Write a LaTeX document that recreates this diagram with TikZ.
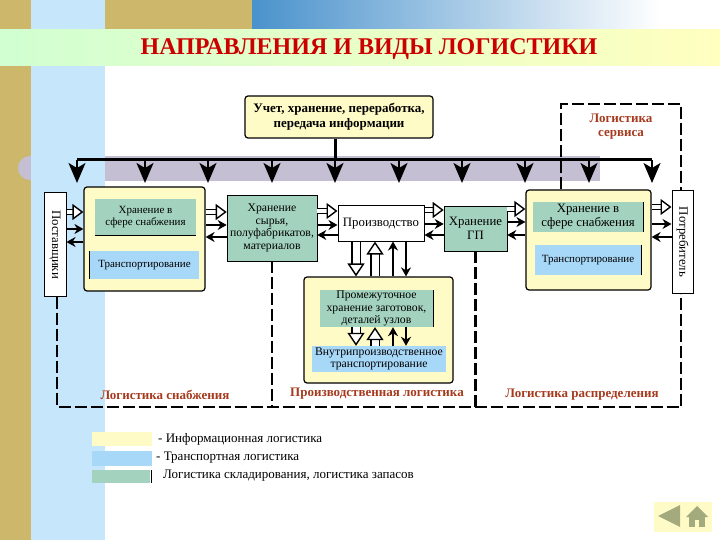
\documentclass[tikz,border=0pt]{standalone}
\usepackage{fontspec}
\setmainfont{Liberation Serif}
\usetikzlibrary{arrows.meta}

\definecolor{tan}{HTML}{CDB76B}
\definecolor{sky}{HTML}{C6E6FB}
\definecolor{lilac}{HTML}{C4BFD2}
\definecolor{pale}{HTML}{FFFBC6}
\definecolor{stock}{HTML}{A3D3BE}
\definecolor{trans}{HTML}{A8D8F8}
\definecolor{brick}{HTML}{A63A1E}
\definecolor{navicon}{HTML}{A3AB7E}
\definecolor{sea}{HTML}{4A92CC}

\begin{document}
\begin{tikzpicture}[
        x=1pt, y=-1pt,
        txt/.style={font=\fontsize{11}{12}\selectfont, align=center, inner sep=0pt},
        midtxt/.style={font=\fontsize{11.7}{12.4}\selectfont},
        bigtxt/.style={font=\fontsize{12.8}{14}\selectfont},
        infobox/.style={txt, draw, line width=1.2pt, rounded corners=3pt, fill=pale},
        stockbox/.style={txt, fill=stock},
        transbox/.style={txt, fill=trans},
        whitebox/.style={txt, bigtxt, draw, line width=1pt, fill=white},
        area/.style={font=\fontsize{13}{14}\selectfont\bfseries, text=brick, align=center, inner sep=0pt},
        legend/.style={font=\fontsize{13}{15}\selectfont, anchor=west, inner sep=0pt},
        dashline/.style={line width=2.8pt, dash pattern=on 12pt off 4pt},
        busarrow/.style={-{Stealth[length=20pt, width=17pt, inset=5pt]}, line width=2pt},
        hollow/.style={double, double distance=4pt, line width=1.4pt, -{Triangle[open, fill=white, length=11pt, width=16pt]}},
        bighollow/.style={double, double distance=7pt, line width=1.4pt, -{Triangle[open, fill=white, length=13pt, width=17pt]}},
        arrow/.style={-{Stealth[length=9pt, width=10pt]}, line width=1.4pt}
    ]
        \useasboundingbox (0,0) rectangle (720,540);

        % background
        \fill[tan] (0,0) rectangle (31,540);
        \fill[lilac] (30,168) circle (12);
        \fill[sky] (31,0) rectangle (105,540);
        \fill[tan] (105,0) rectangle (252,30);
        \shade[left color=sea, right color=white] (252,0) rectangle (660,29);
        \shade[left color=green!18, right color=yellow!25] (0,30) rectangle (720,66);
        \fill[lilac] (105,156) rectangle (600,181);

        \node[font=\fontsize{24}{28}\selectfont\bfseries, text=red!80!black, inner sep=0pt] (title) at (369,49) {НАПРАВЛЕНИЯ И ВИДЫ ЛОГИСТИКИ};

        % dashed borders
        \coordinate (dl) at (57,407);
        \coordinate (dr) at (681,407);
        \coordinate (tl) at (561,104);
        \coordinate (tr) at (681,104);

        % nodes
        \node[infobox, font=\fontsize{13}{15}\selectfont\bfseries, minimum width=188pt, minimum height=42pt] (info) at (339,117) {Учет, хранение, переработка,\\передача информации};
        \node[fill=black, minimum width=575pt, minimum height=3pt, inner sep=0pt] (bus) at (364.5,160) {};

        \node[whitebox, minimum width=22pt, minimum height=103pt] (suppl) at (55,244.5) {\rotatebox{-90}{Поставщики}};
        \node[whitebox, minimum width=21pt, minimum height=102pt] (consum) at (682.5,242) {\rotatebox{-90}{Потребитель}};

        \node[infobox, minimum width=121pt, minimum height=104pt] (supply) at (144.5,239) {};
        \node[stockbox, minimum width=101pt, minimum height=36pt] (supplystore) at (145.5,217) {Хранение в\\сфере снабжения};
        \node[transbox, minimum width=109pt, minimum height=28pt] (supplytrans) at (144.5,265) {Транспортирование};

        \node[stockbox, midtxt, draw, line width=.6pt, minimum width=90pt, minimum height=66pt] (raw) at (272,228) {Хранение\\сырья,\\полуфабрикатов,\\материалов};
        \node[whitebox, minimum width=86pt, minimum height=35pt] (prod) at (381,223.5) {Производство};
        \node[stockbox, bigtxt, draw, line width=.6pt, minimum width=63pt, minimum height=45pt] (goods) at (475.5,228.5) {Хранение\\ГП};

        \node[infobox, minimum width=125pt, minimum height=100pt] (retail) at (588.5,240) {};
        \node[stockbox, bigtxt, minimum width=110pt, minimum height=30pt] (retailstore) at (588,217) {Хранение в\\сфере снабжения};
        \node[transbox, minimum width=106pt, minimum height=30pt] (retailtrans) at (588,260) {Транспортирование};

        \node[infobox, minimum width=149pt, minimum height=106pt] (shop) at (378.5,330) {};
        \node[stockbox, midtxt, minimum width=113pt, minimum height=37pt] (shopstore) at (376.5,308.5) {Промежуточное\\хранение заготовок,\\деталей узлов};
        \node[transbox, midtxt, minimum width=134pt, minimum height=26pt] (shoptrans) at (379,359) {Внутрипроизводственное\\транспортирование};

        \node[area] (service) at (621,127) {Логистика\\сервиса};
        \node[area] (areasupply) at (165,395) {Логистика снабжения};
        \node[area] (areaprod) at (377,394) {Производственная логистика};
        \node[area] (areadist) at (582,395) {Логистика распределения};

        % small dark edges of the inner boxes
        \draw[line width=.8pt] (supplystore.south west) -- (supplystore.south east);
        \draw[line width=.8pt] (supplytrans.north west) -- (supplytrans.south west);
        \draw[line width=.8pt] (retailstore.north east) -- (retailstore.south east);
        \draw[line width=.8pt] (retailtrans.north east) -- (retailtrans.south east);
        \draw[line width=.8pt] (shopstore.north east) -- (shopstore.south east);

        % dashed lines
        \draw[dashline] (dl |- suppl.south) -- (dl) -- (dr) -- (dr |- consum.south);
        \draw[dashline] (tl |- retail.north) -- (tl) -- (tr) -- (tr |- consum.north);
        \draw[dashline] (raw.south) -- (raw.south |- dl);
        \draw[dashline] (goods.south) -- (goods.south |- dl);

        % information bus
        \draw[line width=3pt] (info.south -| bus.north) ++(-29.5,0) -- ++(0,20);
        \foreach \x in {77,145,208,272,335,399,462,525,589,652} {
            \coordinate (tip\x) at (\x,183);
            \draw[busarrow] (bus.center -| tip\x) -- (tip\x);
        }

        % flows between the boxes
        \foreach \a/\b/\yh/\ys/\yb in {suppl/supply/212/229/242, supply/raw/212/225/237, raw/prod/211/225/235, prod/goods/210/224/235, goods/retail/209/222/235, retail/consum/207/224/237} {
            \draw[hollow] (\a.east |- 0,\yh) -- (\b.west |- 0,\yh);
            \draw[arrow] (\a.east |- 0,\ys) -- (\b.west |- 0,\ys);
            \draw[arrow] (\b.west |- 0,\yb) -- (\a.east |- 0,\yb);
        }

        % flows of the production block
        \foreach \a/\b in {prod/shop, shopstore/shoptrans} {
            \draw[bighollow] (\a.south -| 356,0) -- (\b.north -| 356,0);
            \draw[bighollow] (\b.north -| 375,0) -- (\a.south -| 375,0);
            \draw[arrow] (\b.north -| 393,0) -- (\a.south -| 393,0);
            \draw[arrow] (\a.south -| 406,0) -- (\b.north -| 406,0);
        }

        % legend
        \fill[pale] (92,432) rectangle (152,446);
        \fill[trans] (92,451) rectangle (152,466);
        \fill[stock] (92,470) rectangle (150,483);
        \draw[line width=.8pt] (151,470) -- (151,483);
        \node[legend] (leginfo) at (158,439) {- Информационная логистика};
        \node[legend] (legtrans) at (156,458) {- Транспортная логистика};
        \node[legend] (legstock) at (163,476) {Логистика складирования, логистика запасов};

        % navigation buttons
        \fill[pale] (654,502) rectangle (712,532);
        \fill[navicon] (658,516) -- (680,505) -- (680,527) -- cycle;
        \fill[navicon] (686,517) -- (697,506) -- (708,517) -- cycle;
        \fill[navicon] (689,517) rectangle (705,527);
        \fill[pale] (695,520) rectangle (699,527);
    \end{tikzpicture}
\end{document}
